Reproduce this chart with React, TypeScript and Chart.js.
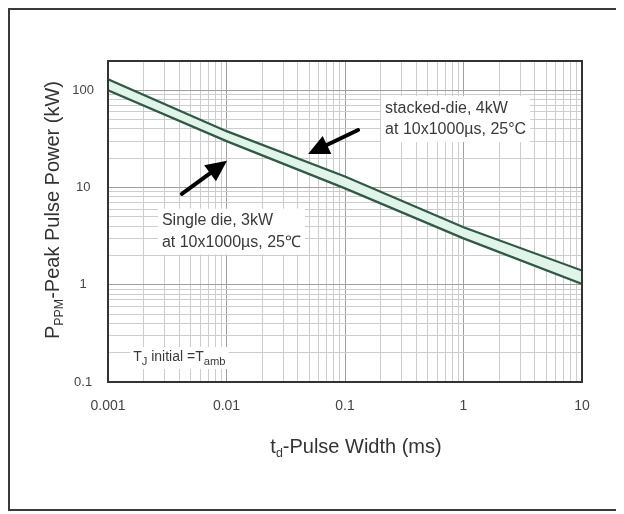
import React, { useEffect, useRef } from 'react';
import { Chart, registerables } from 'chart.js';

Chart.register(...registerables);

// ---- data ----
const pulseWidthMs = [0.001, 0.01, 0.1, 1, 10];
const stackedDieKW = [130, 38, 13, 3.9, 1.4];
const singleDieKW = [100, 30, 9.8, 3.0, 1.02];
const xTickLabels = ['0.001', '0.01', '0.1', '1', '10'];
const yTickLabels = ['0.1', '1', '10', '100'];
const X_MIN = 0.001;
const X_MAX = 10;
const Y_MIN = 0.1;
const Y_MAX = 200;

// annotation anchors (data coordinates)
const stackedArrow = { from: [0.129, 39], to: [0.0488, 22.1] };
const singleArrow = { from: [0.0042, 8.6], to: [0.0101, 18.8] };
const stackedText = { at: [0.218, 65.5, 39], lines: ['stacked-die, 4kW', 'at 10x1000µs, 25°C'] };
const singleText = { at: [0.00285, 4.56, 2.72], lines: ['Single die, 3kW', 'at 10x1000µs, 25℃'] };
const tjText = { at: [0.00163, 0.181] };

const FONT = "'Liberation Sans', Arial, Helvetica, sans-serif";

function logTicks(min: number, max: number) {
  const out: { value: number; major: boolean }[] = [];
  for (let e = Math.floor(Math.log10(min)); e <= Math.ceil(Math.log10(max)); e++) {
    for (let m = 1; m <= 9; m++) {
      const v = parseFloat((m * Math.pow(10, e)).toPrecision(6));
      if (v >= min * 0.9999 && v <= max * 1.0001) out.push({ value: v, major: m === 1 });
    }
  }
  return out;
}

function labelFor(list: string[], value: number) {
  const f = list.find((l) => Math.abs(parseFloat(l) - value) / value < 1e-6);
  return f === undefined ? '' : f;
}

type Seg = { t: string; sub?: boolean };

function measureRich(ctx: CanvasRenderingContext2D, segs: Seg[], size: number, subScale: number) {
  return segs.map((s) => {
    ctx.font = `${s.sub ? size * subScale : size}px ${FONT}`;
    return ctx.measureText(s.t).width;
  });
}

function drawRich(
  ctx: CanvasRenderingContext2D,
  segs: Seg[],
  x: number,
  y: number,
  size: number,
  align: 'left' | 'center',
  subScale = 0.62
) {
  const widths = measureRich(ctx, segs, size, subScale);
  const total = widths.reduce((a, b) => a + b, 0);
  let cx = align === 'center' ? x - total / 2 : x;
  ctx.textAlign = 'left';
  ctx.textBaseline = 'middle';
  segs.forEach((s, i) => {
    ctx.font = `${s.sub ? size * subScale : size}px ${FONT}`;
    ctx.fillText(s.t, cx, s.sub ? y + size * 0.32 : y);
    cx += widths[i];
  });
  return total;
}

function drawArrow(ctx: CanvasRenderingContext2D, x1: number, y1: number, x2: number, y2: number) {
  const ang = Math.atan2(y2 - y1, x2 - x1);
  const headLen = 21;
  const headW = 10;
  const bx = x2 - headLen * Math.cos(ang);
  const by = y2 - headLen * Math.sin(ang);
  ctx.strokeStyle = '#000';
  ctx.lineWidth = 4;
  ctx.lineCap = 'round';
  ctx.beginPath();
  ctx.moveTo(x1, y1);
  ctx.lineTo(bx + 2 * Math.cos(ang), by + 2 * Math.sin(ang));
  ctx.stroke();
  ctx.fillStyle = '#000';
  ctx.beginPath();
  ctx.moveTo(x2, y2);
  ctx.lineTo(bx + headW * Math.sin(ang), by - headW * Math.cos(ang));
  ctx.lineTo(bx - headW * Math.sin(ang), by + headW * Math.cos(ang));
  ctx.closePath();
  ctx.fill();
}

const overlayPlugin = {
  id: 'overlay',
  beforeDatasetsDraw(chart: any) {
    const ctx: CanvasRenderingContext2D = chart.ctx;
    const xs = chart.scales.x;
    const ys = chart.scales.y;
    ctx.save();
    const annSize = 16;
    const drawBlock = (t: { at: number[]; lines: string[] }) => {
      const x = xs.getPixelForValue(t.at[0]);
      const y1 = ys.getPixelForValue(t.at[1]);
      const y2 = ys.getPixelForValue(t.at[2]);
      ctx.font = `${annSize}px ${FONT}`;
      const w = Math.max(...t.lines.map((l) => ctx.measureText(l).width));
      ctx.fillStyle = '#fff';
      ctx.fillRect(x - 4, y1 - annSize * 0.75, w + 8, y2 - y1 + annSize * 1.5);
      ctx.fillStyle = '#3a3a3a';
      drawRich(ctx, [{ t: t.lines[0] }], x, y1, annSize, 'left');
      drawRich(ctx, [{ t: t.lines[1] }], x, y2, annSize, 'left');
    };
    drawBlock(stackedText);
    drawBlock(singleText);
    // Tj note
    const tx = xs.getPixelForValue(tjText.at[0]);
    const ty = ys.getPixelForValue(tjText.at[1]);
    const segs: Seg[] = [{ t: 'T' }, { t: 'J', sub: true }, { t: ' initial =T' }, { t: 'amb', sub: true }];
    const w = measureRich(ctx, segs, 14, 0.8).reduce((a, b) => a + b, 0);
    ctx.fillStyle = '#fff';
    ctx.fillRect(tx - 3, ty - 10, w + 6, 22);
    ctx.fillStyle = '#3a3a3a';
    drawRich(ctx, segs, tx, ty, 14, 'left', 0.8);
    ctx.restore();
  },
  afterDraw(chart: any) {
    const ctx: CanvasRenderingContext2D = chart.ctx;
    const a = chart.chartArea;
    const xs = chart.scales.x;
    const ys = chart.scales.y;
    ctx.save();
    ctx.strokeStyle = '#333';
    ctx.lineWidth = 2;
    ctx.strokeRect(a.left, a.top, a.right - a.left, a.bottom - a.top);

    for (const ar of [stackedArrow, singleArrow]) {
      drawArrow(
        ctx,
        xs.getPixelForValue(ar.from[0]),
        ys.getPixelForValue(ar.from[1]),
        xs.getPixelForValue(ar.to[0]),
        ys.getPixelForValue(ar.to[1])
      );
    }

    // axis titles
    ctx.fillStyle = '#333';
    drawRich(
      ctx,
      [{ t: 't' }, { t: 'd', sub: true }, { t: '-Pulse Width (ms)' }],
      (a.left + a.right) / 2 + 11,
      437,
      20,
      'center'
    );
    ctx.translate(43, 200);
    ctx.rotate(-Math.PI / 2);
    drawRich(ctx, [{ t: 'P' }, { t: 'PPM', sub: true }, { t: '-Peak Pulse Power (kW)' }], 0, 0, 20, 'center');
    ctx.restore();
  },
};

export default function App() {
  const ref = useRef<HTMLCanvasElement | null>(null);
  useEffect(() => {
    if (!ref.current) return;
    const majorC = '#a0a0a0';
    const minorC = '#cdcdcd';
    const chart = new Chart(ref.current, {
      type: 'line',
      data: {
        datasets: [
          {
            label: 'stacked-die, 4kW',
            data: pulseWidthMs.map((x, i) => ({ x, y: stackedDieKW[i] })),
            borderColor: '#2f5a45',
            borderWidth: 2.2,
            pointRadius: 0,
            fill: '+1',
            backgroundColor: '#e0f4ea',
            tension: 0,
          },
          {
            label: 'Single die, 3kW',
            data: pulseWidthMs.map((x, i) => ({ x, y: singleDieKW[i] })),
            borderColor: '#2f5a45',
            borderWidth: 2.2,
            pointRadius: 0,
            fill: false,
            tension: 0,
          },
        ],
      },
      options: {
        animation: false,
        responsive: false,
        devicePixelRatio: 1,
        layout: { padding: { left: 0, top: 51, right: 37, bottom: 0 } },
        plugins: {
          legend: { display: false },
          tooltip: { enabled: false },
          filler: { drawTime: 'beforeDatasetsDraw' },
        },
        scales: {
          x: {
            type: 'logarithmic',
            min: X_MIN,
            max: X_MAX,
            afterBuildTicks: (s: any) => {
              s.ticks = logTicks(X_MIN, X_MAX);
            },
            afterFit: (s: any) => {
              s.height = 127;
            },
            grid: {
              drawTicks: false,
              color: (c: any) => (c.tick && c.tick.major ? majorC : minorC),
              lineWidth: 1,
            },
            border: { display: false },
            ticks: {
              autoSkip: false,
              maxRotation: 0,
              padding: 16,
              color: '#444',
              font: { family: FONT, size: 14 },
              callback: (v: any) => labelFor(xTickLabels, Number(v)),
            },
          },
          y: {
            type: 'logarithmic',
            min: Y_MIN,
            max: Y_MAX,
            afterBuildTicks: (s: any) => {
              s.ticks = logTicks(Y_MIN, Y_MAX);
            },
            afterFit: (s: any) => {
              s.width = 98;
            },
            grid: {
              drawTicks: false,
              color: (c: any) => (c.tick && c.tick.major ? majorC : minorC),
              lineWidth: 1,
            },
            border: { display: false },
            ticks: {
              autoSkip: false,
              crossAlign: 'center',
              padding: 14,
              color: '#444',
              font: { family: FONT, size: 13 },
              callback: (v: any) => labelFor(yTickLabels, Number(v)),
            },
          },
        },
      },
      plugins: [overlayPlugin],
    } as any);
    return () => chart.destroy();
  }, []);

  return (
    <div style={{ width: 609, height: 499, border: '2px solid #3a3a3a', position: 'relative', background: '#fff' }}>
      <canvas ref={ref} width={609} height={499} style={{ display: 'block', width: 609, height: 499 }} />
    </div>
  );
}
